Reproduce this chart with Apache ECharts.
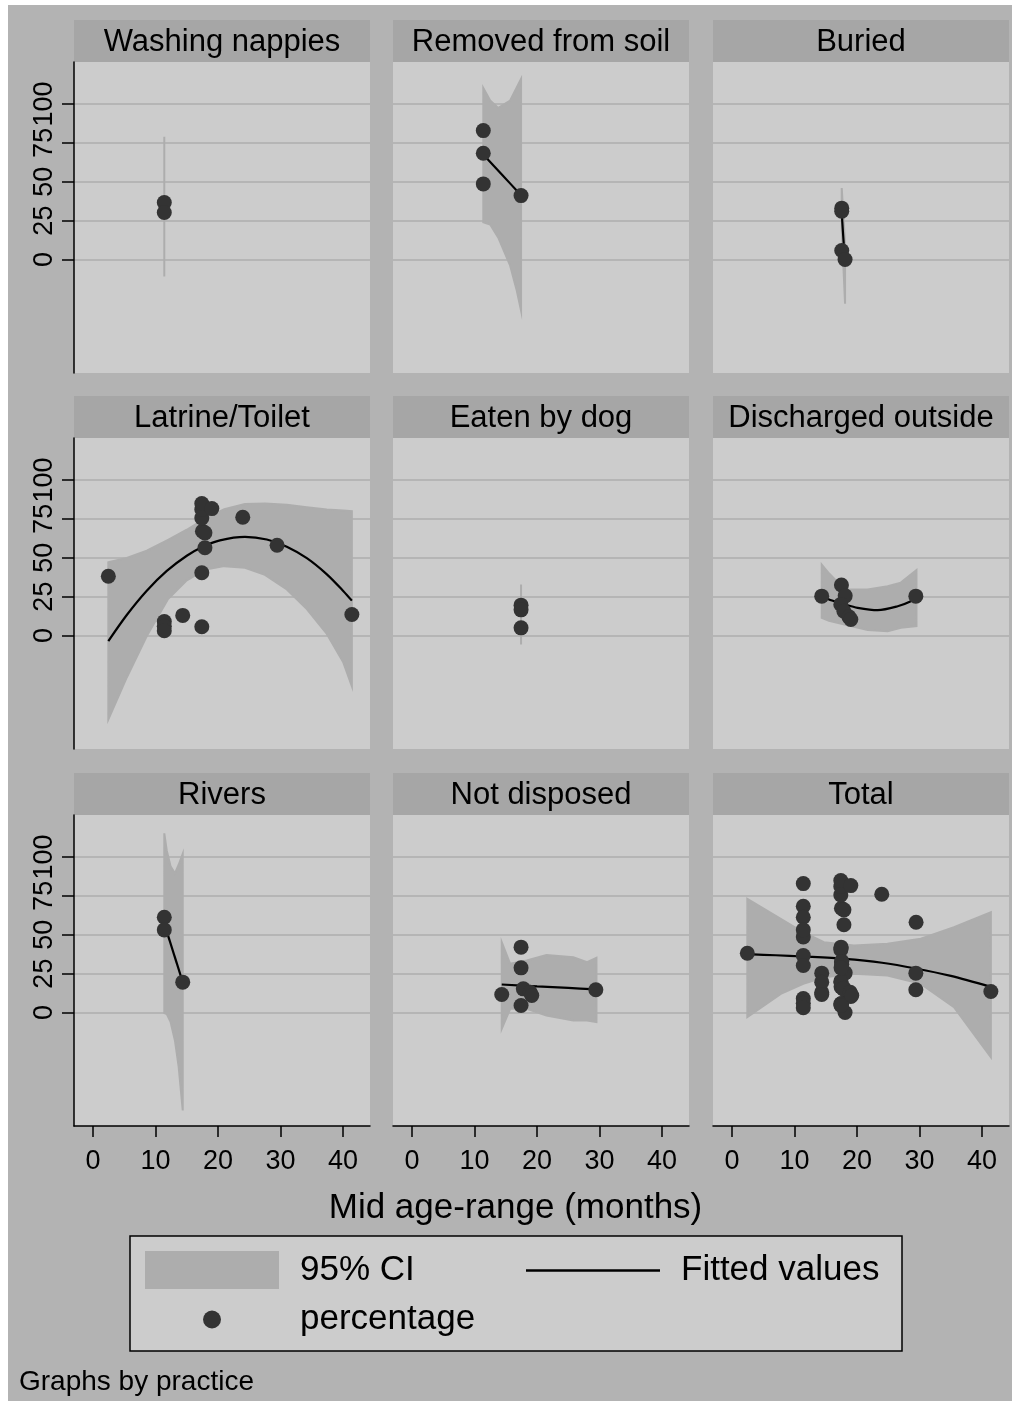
<!DOCTYPE html>
<html>
<head>
<meta charset="utf-8">
<script src="https://cdn.jsdelivr.net/npm/echarts@6/dist/echarts.min.js"></script>
<style>html,body{margin:0;padding:0;background:#fff}#c{width:1012px;height:1401px}</style>
</head>
<body>
<div id="c"></div>
<script>
// ---- data ----
const panelTitles = ['Washing nappies','Removed from soil','Buried','Latrine/Toilet','Eaten by dog','Discharged outside','Rivers','Not disposed','Total'];
const xTicks = [0, 10, 20, 30, 40];
const yTicks = [0, 25, 50, 75, 100];
const xTitle = 'Mid age-range (months)';
const noteText = 'Graphs by practice';

// points [mid age, percentage]; fitted [x, y]; CI [x, lower, upper]
const washingPts = [[11.4,36.6],[11.4,30.2]];
const washingFit = [[11.4,33.4]];
const washingCI  = [[11.4,-11,79]];

const soilPts = [[11.4,82.9],[11.4,68.3],[11.4,48.6],[17.44,41.1]];
const soilFit = [[11.4,67.5],[14.4,54.5],[17.44,41.3]];
const soilCI  = [[11.4,24,110.3],[12.5,22.5,102.2],[13.8,14,97.5],[15.7,-4,102.2],[16.75,-19.9,110.7],[17.44,-32.8,116.1]];

const buriedPts = [[17.55,33],[17.55,31],[17.55,5.8],[18.08,0]];
const buriedFit = [[17.55,30],[17.87,10],[18.08,1]];
const buriedCI  = [[17.55,20,46],[18.08,-28.5,10]];

const latrinePts = [[2.45,38.1],[11.4,9],[11.4,6],[11.4,3],[14.35,12.9],[17.4,5.6],[17.4,40.3],[17.9,56.4],[17.5,67],[17.9,66],[17.4,75.6],[17.4,81],[17.4,84.8],[19.0,81.6],[23.95,76],[29.44,58],[41.4,13.5]];
const latrineFit = [[2.45,-3.6],[5.4,13.2],[8.6,28.8],[11.8,41.5],[15,51.3],[17.65,57.2],[20.3,61.2],[24.3,63.4],[27.8,61.7],[31,57.1],[34.2,49.7],[37.4,39.3],[40.05,28.5],[41.4,22.4]];
const latrineCI  = [[2.45,-54,47.1],[5.4,-27,49.8],[8.6,-0.4,54.5],[12,23.5,61.5],[15,35.5,68],[18,42.5,75.5],[21,44.6,81.2],[24.3,43.5,84.6],[27.5,39,84.8],[31,29.6,84],[34.2,17,82.4],[37.4,1,81],[40,-17,80.3],[41.4,-32.6,79.9]];

const dogPts = [[17.44,19.5],[17.44,16.5],[17.44,4.9]];
const dogFit = [[17.44,13.6]];
const dogCI  = [[17.44,-5.8,32.8]];

const dischPts = [[14.35,25.3],[17.5,32.5],[18.1,25.5],[17.4,20],[17.9,15.6],[18.7,12],[19,10.3],[29.4,25.3]];
const dischFit = [[14.35,25.3],[16,22.5],[18,20],[20.1,17.8],[23.3,16.3],[26.5,18.8],[28.6,22],[29.4,24.5]];
const dischCI  = [[14.35,11.4,45.6],[15.5,9.5,40],[18,7.1,29.6],[21.7,3.5,29.6],[24.9,2.8,31.7],[27,5,34],[29.5,6,42]];

const riversPts = [[11.4,61.2],[11.4,53.1],[14.35,19.5]];
const riversFit = [[11.4,57.1],[14.35,19.5]];
const riversCI  = [[11.4,-0.4,115.2],[11.8,-1,104],[12.4,-6,94],[13.1,-18,89.5],[13.7,-35,95],[14.35,-63,102]];

const ndPts = [[14.35,11.6],[17.44,42],[17.44,28.7],[17.8,15.2],[18.9,13],[19.15,10.9],[17.44,4.5],[29.4,14.6]];
const ndFit = [[14.35,18],[20,16.8],[25,15.8],[29.4,14.8]];
const ndCI  = [[14.35,-10.5,45.2],[15.7,2.4,31.3],[18.35,2.4,33.4],[21.5,-1.9,37],[25.8,-5.1,35.5],[28,-5.1,32.3],[29.5,-6.2,35.2]];

// Total panel shows all observations together
const totalPts = [].concat(washingPts, soilPts, buriedPts, latrinePts, dogPts, dischPts, riversPts, ndPts);
const totalFit = [[2.45,37.5],[7,36.8],[11.4,36],[18,34.5],[24,32],[29.4,28.3],[35,23.5],[41.4,16.5]];
const totalCI  = [[2.45,-3,73.1],[7.8,12,60.2],[11.4,18.4,51.6],[14.7,22.7,45.2],[19.5,24.9,43.1],[24.85,23.8,44.2],[30.2,18.4,47.4],[35.5,3.4,54.8],[41.4,-28.7,64.5]];

const panelPts = [washingPts, soilPts, buriedPts, latrinePts, dogPts, dischPts, riversPts, ndPts, totalPts];
const panelFit = [washingFit, soilFit, buriedFit, latrineFit, dogFit, dischFit, riversFit, ndFit, totalFit];
const panelCI  = [washingCI, soilCI, buriedCI, latrineCI, dogCI, dischCI, riversCI, ndCI, totalCI];

// ---- styling / layout ----
const FONT = 'Liberation Sans, Arial, sans-serif';
const C_BG = '#b3b3b3', C_HEAD = '#a6a6a6', C_PLOT = '#cccccc', C_GRIDLINE = '#b5b5b5', C_BAND = '#adadad', C_MARK = '#333333';
const X_MIN = -3.04, X_MAX = 44.3, Y_MIN = -73, Y_MAX = 127;
const colLeft = [74, 393, 713];
const rowTop = [62, 438, 815];
const PW = 296, PH = 311, HEAD_H = 42;

function bandRender(params, api) {
  if (params.dataIndexInside !== 0) return null;
  const n = params.dataInsideLength;
  const up = [], lo = [];
  for (let i = 0; i < n; i++) {
    up.push(api.coord([api.value(0, i), api.value(2, i)]));
    lo.push(api.coord([api.value(0, i), api.value(1, i)]));
  }
  const pts = up.concat(lo.reverse());
  const col = api.visual('color');
  return { type: 'polygon', shape: { points: pts }, style: { fill: col, stroke: col, lineWidth: 2 } };
}

const grids = [], xAxes = [], yAxes = [], series = [], graphics = [];
graphics.push({ type: 'rect', shape: { x: 8, y: 5, width: 1004, height: 1396 }, style: { fill: C_BG }, z: -100, silent: true });

for (let i = 0; i < 9; i++) {
  const r = Math.floor(i / 3), c = i % 3;
  grids.push({ left: colLeft[c], top: rowTop[r], width: PW, height: PH, show: true, backgroundColor: C_PLOT, borderWidth: 0 });
  graphics.push({ type: 'rect', shape: { x: colLeft[c], y: rowTop[r] - HEAD_H, width: PW, height: HEAD_H }, style: { fill: C_HEAD }, z: -50, silent: true });
  graphics.push({ type: 'text', x: colLeft[c] + PW / 2, y: rowTop[r] - HEAD_H / 2 + 1, style: { text: panelTitles[i], font: '31px ' + FONT, fill: '#000', textAlign: 'center', textVerticalAlign: 'middle' }, z: -40, silent: true });
  const showX = r === 2, showY = c === 0;
  xAxes.push({
    gridIndex: i, type: 'value', min: X_MIN, max: X_MAX,
    axisLine: { show: showX, onZero: false, lineStyle: { color: '#000', width: 1.5 } },
    axisTick: { show: showX, customValues: xTicks, length: 11, lineStyle: { color: '#000', width: 1.5 } },
    axisLabel: { show: showX, customValues: xTicks, fontSize: 27, fontFamily: FONT, color: '#000', margin: 22 },
    splitLine: { show: false }
  });
  yAxes.push({
    gridIndex: i, type: 'value', min: Y_MIN, max: Y_MAX,
    axisLine: { show: showY, onZero: false, lineStyle: { color: '#000', width: 1.5 } },
    axisTick: { show: showY, customValues: yTicks, length: 12, lineStyle: { color: '#000', width: 1.5 } },
    axisLabel: { show: showY, customValues: yTicks, rotate: 90, fontSize: 27, fontFamily: FONT, color: '#000', margin: 16, hideOverlap: false },
    splitLine: { show: true, lineStyle: { color: C_GRIDLINE, width: 2 } }
  });
  series.push({
    name: '95% CI', type: 'custom', xAxisIndex: i, yAxisIndex: i, renderItem: bandRender,
    itemStyle: { color: C_BAND }, encode: { x: 0, y: [1, 2] }, data: panelCI[i], silent: true, z: 2
  });
  series.push({
    name: 'Fitted values', type: 'line', xAxisIndex: i, yAxisIndex: i, data: panelFit[i],
    symbol: 'none', showSymbol: false, smooth: 0.3, lineStyle: { color: '#000', width: 2.2 }, itemStyle: { color: '#000' }, z: 3, silent: true
  });
  series.push({
    name: 'percentage', type: 'scatter', xAxisIndex: i, yAxisIndex: i, data: panelPts[i],
    symbol: 'circle', symbolSize: 15, itemStyle: { color: C_MARK, opacity: 1 }, z: 4, silent: true
  });
}

// axis title and note
graphics.push({ type: 'text', x: 515.5, y: 1208, style: { text: xTitle, font: '35px ' + FONT, fill: '#000', textAlign: 'center', textVerticalAlign: 'middle' }, silent: true });
graphics.push({ type: 'text', x: 19, y: 1382, style: { text: noteText, font: '28px ' + FONT, fill: '#000', textAlign: 'left', textVerticalAlign: 'middle' }, silent: true });
// legend frame
graphics.push({ type: 'rect', shape: { x: 130, y: 1236, width: 772, height: 115 }, style: { fill: C_PLOT, stroke: '#000', lineWidth: 1.5 }, z: -30, silent: true });

const legendText = { fontSize: 35, fontFamily: FONT, color: '#000' };
const option = {
  animation: false,
  backgroundColor: '#ffffff',
  textStyle: { fontFamily: FONT },
  grid: grids, xAxis: xAxes, yAxis: yAxes, series: series,
  graphic: { elements: graphics },
  legend: [
    { data: [{ name: '95% CI', icon: 'rect' }], left: 145, top: 1251, padding: 0, itemWidth: 134, itemHeight: 38, selectedMode: false,
      textStyle: Object.assign({ padding: [0, 0, 0, 16] }, legendText) },
    { data: [{ name: 'Fitted values', icon: 'rect' }], left: 526, top: 1253, padding: 0, itemWidth: 134, itemHeight: 2.5, selectedMode: false,
      itemStyle: { color: '#000' },
      textStyle: Object.assign({ padding: [8, 0, 0, 16] }, legendText) },
    { data: [{ name: 'percentage', icon: 'circle' }], left: 203, top: 1302, padding: 0, itemWidth: 18, itemHeight: 18, selectedMode: false,
      textStyle: Object.assign({ padding: [10, 0, 0, 74] }, legendText) }
  ]
};
const chart = echarts.init(document.getElementById('c'), null, { renderer: 'canvas' });
chart.setOption(option);
</script>
</body>
</html>
